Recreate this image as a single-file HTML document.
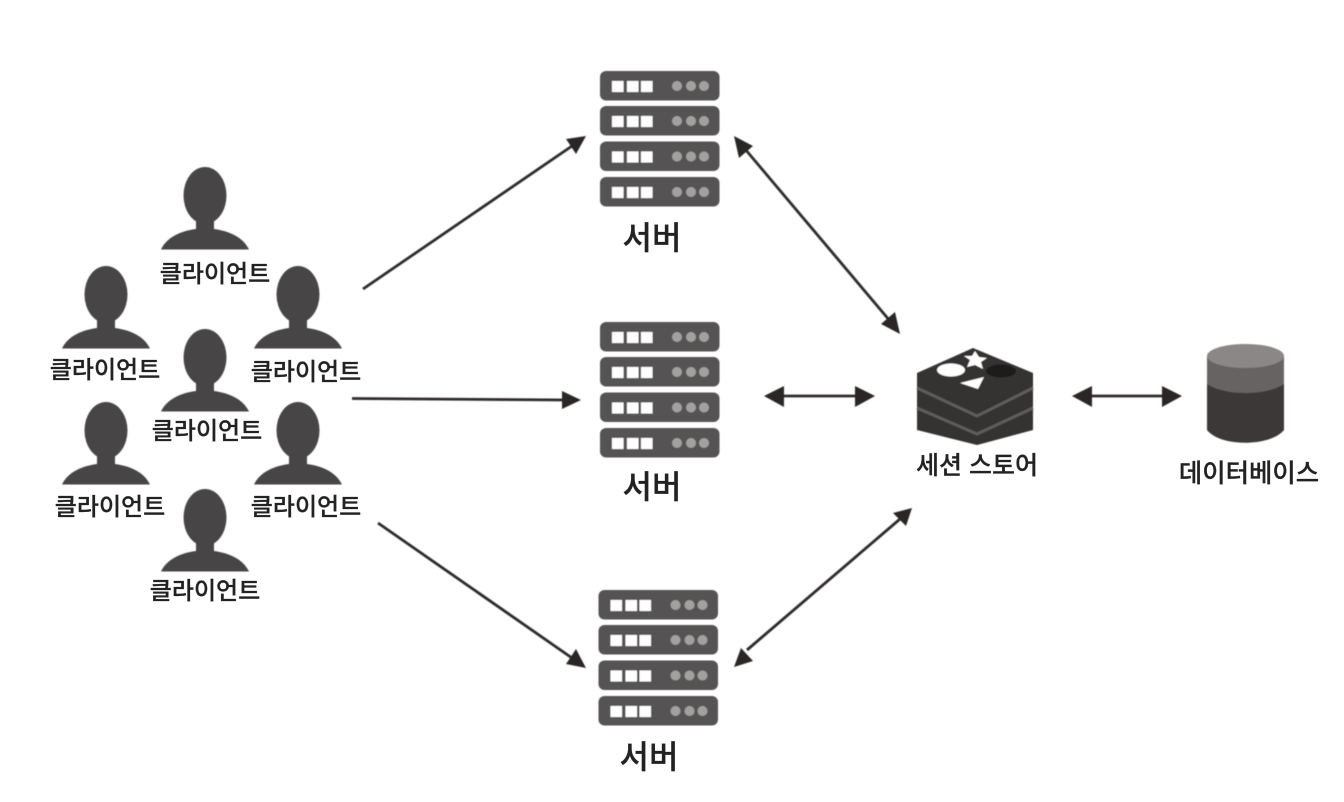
<!DOCTYPE html>
<html lang="ko">
<head>
<meta charset="utf-8">
<title>세션 스토어 구성도</title>
<style>
html,body{margin:0;padding:0;background:#fff;width:1344px;height:802px;overflow:hidden}
svg{display:block}
text{font-family:"Liberation Sans","Noto Sans CJK KR",sans-serif;fill:#222;text-anchor:middle;font-weight:500;stroke:#222;stroke-width:.25px}
.c{font-size:24px}
.s{font-size:32px}
</style>
</head>
<body>
<svg width="1344" height="802" viewBox="0 0 1344 802" xmlns="http://www.w3.org/2000/svg">
<defs>
<filter id="b" x="-5%" y="-5%" width="110%" height="110%"><feGaussianBlur stdDeviation="0.45"/></filter>
<g id="p" fill="#474545">
<ellipse cx="0" cy="28.500" rx="21.500" ry="28.500"/>
<path d="M-9,48 H9 V62 C24,64 38,70 44,82.500 H-44 C-38,70 -24,64 -9,62 Z"/>
</g>
<g id="r">
<rect x="0" y="0" width="119.500" height="29.500" rx="6" fill="#555353"/>
<rect x="12" y="10" width="11.500" height="11" fill="#fff"/>
<rect x="27" y="10" width="11.500" height="11" fill="#fff"/>
<rect x="41" y="10" width="11.500" height="11" fill="#fff"/>
<circle cx="77" cy="15" r="5" fill="#a3a1a0"/>
<circle cx="91" cy="15" r="5" fill="#a3a1a0"/>
<circle cx="104" cy="15" r="5" fill="#a3a1a0"/>
</g>
<g id="srv">
<use href="#r" y="0"/>
<use href="#r" y="35"/>
<use href="#r" y="70.500"/>
<use href="#r" y="106"/>
</g>
</defs>
<g filter="url(#b)">
<use href="#p" x="205" y="167"/>
<use href="#p" x="106" y="266"/>
<use href="#p" x="298" y="266"/>
<use href="#p" x="205" y="329"/>
<use href="#p" x="106" y="402"/>
<use href="#p" x="298" y="402"/>
<use href="#p" x="205" y="489"/>

<use href="#srv" x="600" y="71"/>
<use href="#srv" x="600" y="322"/>
<use href="#srv" x="598.500" y="590"/>

<!-- connectors -->
<g stroke="#2f2c2c" stroke-width="2.800" fill="none">
<line x1="363" y1="289" x2="572" y2="146"/>
<line x1="352" y1="398.500" x2="566" y2="400"/>
<line x1="378" y1="523" x2="572" y2="658"/>
<line x1="745" y1="149" x2="890" y2="321"/>
<line x1="780" y1="396" x2="860" y2="396"/>
<line x1="747" y1="650" x2="900" y2="519"/>
<line x1="1087" y1="396" x2="1167" y2="396"/>
</g>
<g fill="#2b2828">
<polygon points="586,136 576,154 566,139"/>
<polygon points="581,400 562,391 562,409"/>
<polygon points="586,668 566,664 576,649"/>
<polygon points="734,136 753,146 739,158"/>
<polygon points="900,334 881,324 895,312"/>
<polygon points="764,396 784,386 784,407"/>
<polygon points="875,396 855,386 855,407"/>
<polygon points="734,667 741,648 753,661"/>
<polygon points="912,508 893,513 906,526"/>
<polygon points="1072,396 1092,386 1092,407"/>
<polygon points="1182,396 1162,386 1162,407"/>
</g>

<!-- redis -->
<path d="M917,373 L973,348 L1033,373 V430 L977,445 L917,430 Z" fill="#343131"/>
<path d="M917,388 L977,416 L1033,388" fill="none" stroke="#5f5c5b" stroke-width="3"/>
<path d="M917,408 L977,434 L1033,408" fill="none" stroke="#5f5c5b" stroke-width="3"/>
<ellipse cx="951" cy="370" rx="14" ry="6.500" fill="#fff"/>
<polygon points="975,351 979,357 987,358 981,362 983,369 975,365 967,367 970,360 964,356 972,356" fill="#fff"/>
<polygon points="960,383 984,377 978,389" fill="#fff"/>
<ellipse cx="1001" cy="371" rx="15" ry="6.500" fill="#1f1d1d"/>

<!-- database -->
<path d="M1207,356 V430 C1220,447 1270,447 1284,430 V356 Z" fill="#3c3938"/>
<path d="M1207,356 V384 C1225,396 1266,396 1284,384 V356 Z" fill="#666362"/>
<ellipse cx="1245.500" cy="356" rx="38.500" ry="12" fill="#8a8786"/>
</g>

<!-- labels -->
<text class="c" x="215" y="282">클라이언트</text>
<text class="c" x="105" y="378">클라이언트</text>
<text class="c" x="306" y="380">클라이언트</text>
<text class="c" x="207" y="439">클라이언트</text>
<text class="c" x="110" y="515">클라이언트</text>
<text class="c" x="306" y="515">클라이언트</text>
<text class="c" x="205" y="599">클라이언트</text>
<text class="s" x="652" y="249">서버</text>
<text class="s" x="652" y="498">서버</text>
<text class="s" x="649" y="768">서버</text>
<text x="977" y="474" style="font-size:25px">세션 스토어</text>
<text x="1249" y="482" style="font-size:25.400px">데이터베이스</text>
</svg>
</body>
</html>
